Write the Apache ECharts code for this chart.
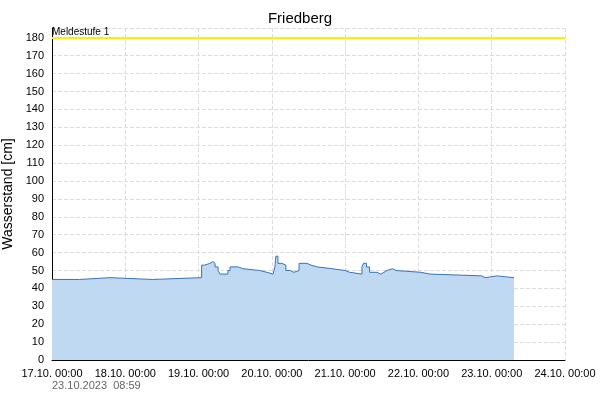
<!DOCTYPE html><html><head><meta charset="utf-8"><script src="https://cdn.jsdelivr.net/npm/echarts@6/dist/echarts.min.js"></script></head><body style="margin:0"><div id="c" style="width:600px;height:400px"></div><script>
const dayLabels=["17.10. 00:00","18.10. 00:00","19.10. 00:00","20.10. 00:00","21.10. 00:00","22.10. 00:00","23.10. 00:00","24.10. 00:00"];
const hours=[0,9,19,33,49,50,51.7,52.7,53.4,54.4,55,57.6,58.3,61,62.5,68,70.4,72.4,73,73.3,74,75.3,76.6,78,79.2,80.9,83.5,84.8,87,91.7,96,97.5,101.5,102,103,104,106.4,107.7,108.7,109.7,111.6,112.6,120.8,123.8,140.8,141.8,145.7,151.3];
const levels=[45,46,45,46,53,54,55,54,52,50,48,50,52,51,50,49,48,49,52,58,54,53,50,49,50,54,53,52,51,50,49,48,52,54,52,49,48,49,50,51,50,49,48,47,46,47,46,46];
const threshold=180, thresholdName="Meldestufe 1";
const data=[];
hours.forEach((h,i)=>{if(i>0)data.push([h,levels[i-1]]);data.push([h,levels[i]]);});
const F='Liberation Sans';
const ch=echarts.init(document.getElementById('c'));
const ax={color:'#000',fontSize:11,fontFamily:F};
ch.setOption({animation:false,
title:{text:'Friedberg',left:'center',top:6,textStyle:{fontWeight:'normal',fontSize:15,color:'#000',fontFamily:F}},
graphic:[{type:'text',left:52,top:380,style:{text:'23.10.2023  08:59',fill:'#666',fontSize:11,fontFamily:F}}],
grid:{left:52,right:35,top:28,bottom:40,containLabel:false,outerBoundsMode:'none'},
xAxis:{type:'value',min:0,max:168,interval:24,axisLine:{lineStyle:{color:'#000'}},axisTick:{show:false},
 axisLabel:{...ax,formatter:v=>dayLabels[Math.round(v/24)]},splitLine:{show:true,lineStyle:{type:'dashed',color:'#ddd'}}},
yAxis:{type:'value',min:0,max:185.5,interval:10,name:'Wasserstand [cm]',nameLocation:'middle',nameGap:32,nameTextStyle:{fontSize:14,color:'#000',fontFamily:F},
 axisLine:{show:true,lineStyle:{color:'#000'}},axisTick:{show:false},axisLabel:{...ax,showMaxLabel:false},splitLine:{lineStyle:{type:'dashed',color:'#ddd'}}},
series:[{type:'line',data,symbol:'none',lineStyle:{color:'#3a72b8',width:1},areaStyle:{color:'#bfd9f2',opacity:1},
 markLine:{symbol:'none',silent:true,data:[{yAxis:threshold}],lineStyle:{color:'#ffee00',width:2,type:'solid'},
 label:{position:'insideStartTop',formatter:thresholdName,color:'#000',fontSize:10,fontFamily:F,distance:[0,1]}}}]
});
</script></body></html>
